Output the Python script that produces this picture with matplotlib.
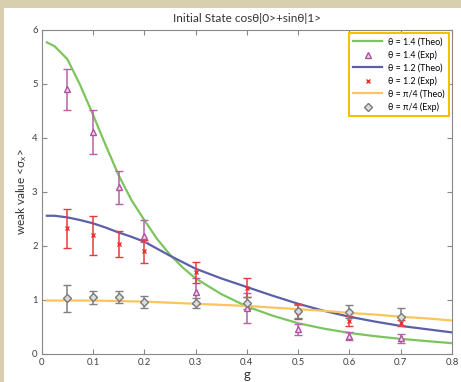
import matplotlib.pyplot as plt
from matplotlib.patches import Rectangle
from matplotlib.lines import Line2D

plt.rcParams['font.family'] = ['Lato', 'DejaVu Sans']

# theory curves
g_theo = [0.01, 0.025, 0.05, 0.075, 0.1, 0.125, 0.15, 0.175, 0.2, 0.225, 0.25, 0.275,
          0.3, 0.35, 0.4, 0.45, 0.5, 0.55, 0.6, 0.65, 0.7, 0.75, 0.8]
theo_14 = [5.77, 5.70, 5.46, 4.98, 4.43, 3.86, 3.31, 2.85, 2.48, 2.13, 1.84, 1.60,
           1.40, 1.11, 0.88, 0.71, 0.57, 0.47, 0.39, 0.33, 0.28, 0.24, 0.20]
theo_12 = [2.56, 2.56, 2.53, 2.48, 2.42, 2.34, 2.25, 2.17, 2.08, 1.95, 1.82, 1.70,
           1.58, 1.40, 1.24, 1.08, 0.93, 0.80, 0.69, 0.60, 0.52, 0.46, 0.40]
theo_pi4 = [0.99, 0.99, 0.99, 0.99, 0.99, 0.985, 0.98, 0.975, 0.97, 0.96, 0.95, 0.94,
            0.93, 0.91, 0.89, 0.86, 0.83, 0.80, 0.76, 0.73, 0.69, 0.66, 0.62]

# experimental points
g_exp = [0.05, 0.1, 0.15, 0.2, 0.3, 0.4, 0.5, 0.6, 0.7]
exp_14 = [4.90, 4.12, 3.09, 2.18, 1.15, 0.85, 0.46, 0.33, 0.29]
exp_14_lo = [4.52, 3.70, 2.78, 2.07, 0.92, 0.57, 0.35, 0.25, 0.20]
exp_14_hi = [5.27, 4.52, 3.39, 2.49, 1.40, 1.13, 0.56, 0.41, 0.37]
exp_12 = [2.33, 2.20, 2.04, 1.91, 1.52, 1.23, 0.78, 0.62, 0.57]
exp_12_lo = [1.96, 1.83, 1.80, 1.69, 1.32, 1.05, 0.65, 0.51, 0.51]
exp_12_hi = [2.69, 2.56, 2.27, 2.12, 1.71, 1.41, 0.92, 0.71, 0.63]
exp_pi4 = [1.04, 1.05, 1.05, 0.96, 0.94, 0.94, 0.79, 0.78, 0.69]
exp_pi4_lo = [0.78, 0.92, 0.94, 0.85, 0.85, 0.84, 0.66, 0.66, 0.53]
exp_pi4_hi = [1.28, 1.17, 1.16, 1.08, 1.04, 1.06, 0.91, 0.90, 0.85]

labels = ['θ = 1.4 (Theo)', 'θ = 1.4 (Exp)', 'θ = 1.2 (Theo)',
          'θ = 1.2 (Exp)', 'θ = π/4 (Theo)', 'θ = π/4 (Exp)']

fig = plt.figure(figsize=(4.61, 3.82), dpi=100, facecolor='#d8cfae')
fig.patches.append(Rectangle((4 / 461, 0), 1, 374 / 382, transform=fig.transFigure,
                             facecolor='white', edgecolor='none', zorder=-10))
ax = fig.add_axes([0.0905, 0.0733, 0.89, 0.8482])


def err(vals, lo, hi):
    return [[v - l for v, l in zip(vals, lo)], [h - v for v, h in zip(vals, hi)]]


tri = dict(marker='^', ms=5, mfc='#f0d8ec', mec='#b050a0', mew=1.0)
crs = dict(marker='x', ms=3.5, mec='#e8302d', mew=1.0)
dia = dict(marker='D', ms=3.6, mfc='#dcdcdc', mec='#7a7a7a', mew=1.0)

l14, = ax.plot(g_theo, theo_14, color='#7cc55e', lw=1.6, zorder=3)
ax.errorbar(g_exp, exp_14, yerr=err(exp_14, exp_14_lo, exp_14_hi), ls='none', **tri,
            ecolor='#b860a8', elinewidth=1.1, capsize=3, capthick=1.1, zorder=4)
l12, = ax.plot(g_theo, theo_12, color='#5b60a8', lw=1.6, zorder=3)
ax.errorbar(g_exp, exp_12, yerr=err(exp_12, exp_12_lo, exp_12_hi), ls='none', **crs,
            ecolor='#e83a3a', elinewidth=1.1, capsize=3, capthick=1.1, zorder=4)
lpi, = ax.plot(g_theo, theo_pi4, color='#fcc45c', lw=1.6, zorder=3)
ax.errorbar(g_exp, exp_pi4, yerr=err(exp_pi4, exp_pi4_lo, exp_pi4_hi), ls='none', **dia,
            ecolor='#808080', elinewidth=1.1, capsize=3, capthick=1.1, zorder=4)

ax.set_xlim(0, 0.8)
ax.set_ylim(0, 6)
ax.set_xticks([0, 0.1, 0.2, 0.3, 0.4, 0.5, 0.6, 0.7, 0.8])
ax.set_xticklabels(['0', '0.1', '0.2', '0.3', '0.4', '0.5', '0.6', '0.7', '0.8'])
ax.set_yticks([0, 1, 2, 3, 4, 5, 6])
for s in ax.spines.values():
    s.set_color('#888888')
    s.set_linewidth(0.8)
ax.tick_params(direction='in', top=True, right=True, length=3.5, color='#888888',
               labelsize=6.8, labelcolor='#404040', pad=3)

ax.set_title('Initial State cosθ|0>+sinθ|1>', fontsize=8.5, color='#333333', pad=6)
ax.set_xlabel('g', fontsize=9.5, color='#333333', labelpad=1)
ax.set_ylabel('weak value <σ$\\mathregular{_x}$>', fontsize=8.5, color='#333333', labelpad=2)

handles = [l14, Line2D([], [], ls='none', **tri), l12,
           Line2D([], [], ls='none', **crs), lpi, Line2D([], [], ls='none', **dia)]
leg = ax.legend(handles, labels, loc='upper right', bbox_to_anchor=(0.993, 0.991),
                borderaxespad=0, fontsize=6.4, fancybox=False, framealpha=1,
                handlelength=3.2, labelspacing=0.42, borderpad=0.5, handletextpad=0.7)
leg.get_frame().set_edgecolor('#f5c000')
leg.get_frame().set_linewidth(1.5)

fig.savefig('out.png', dpi=100, facecolor=fig.get_facecolor())
